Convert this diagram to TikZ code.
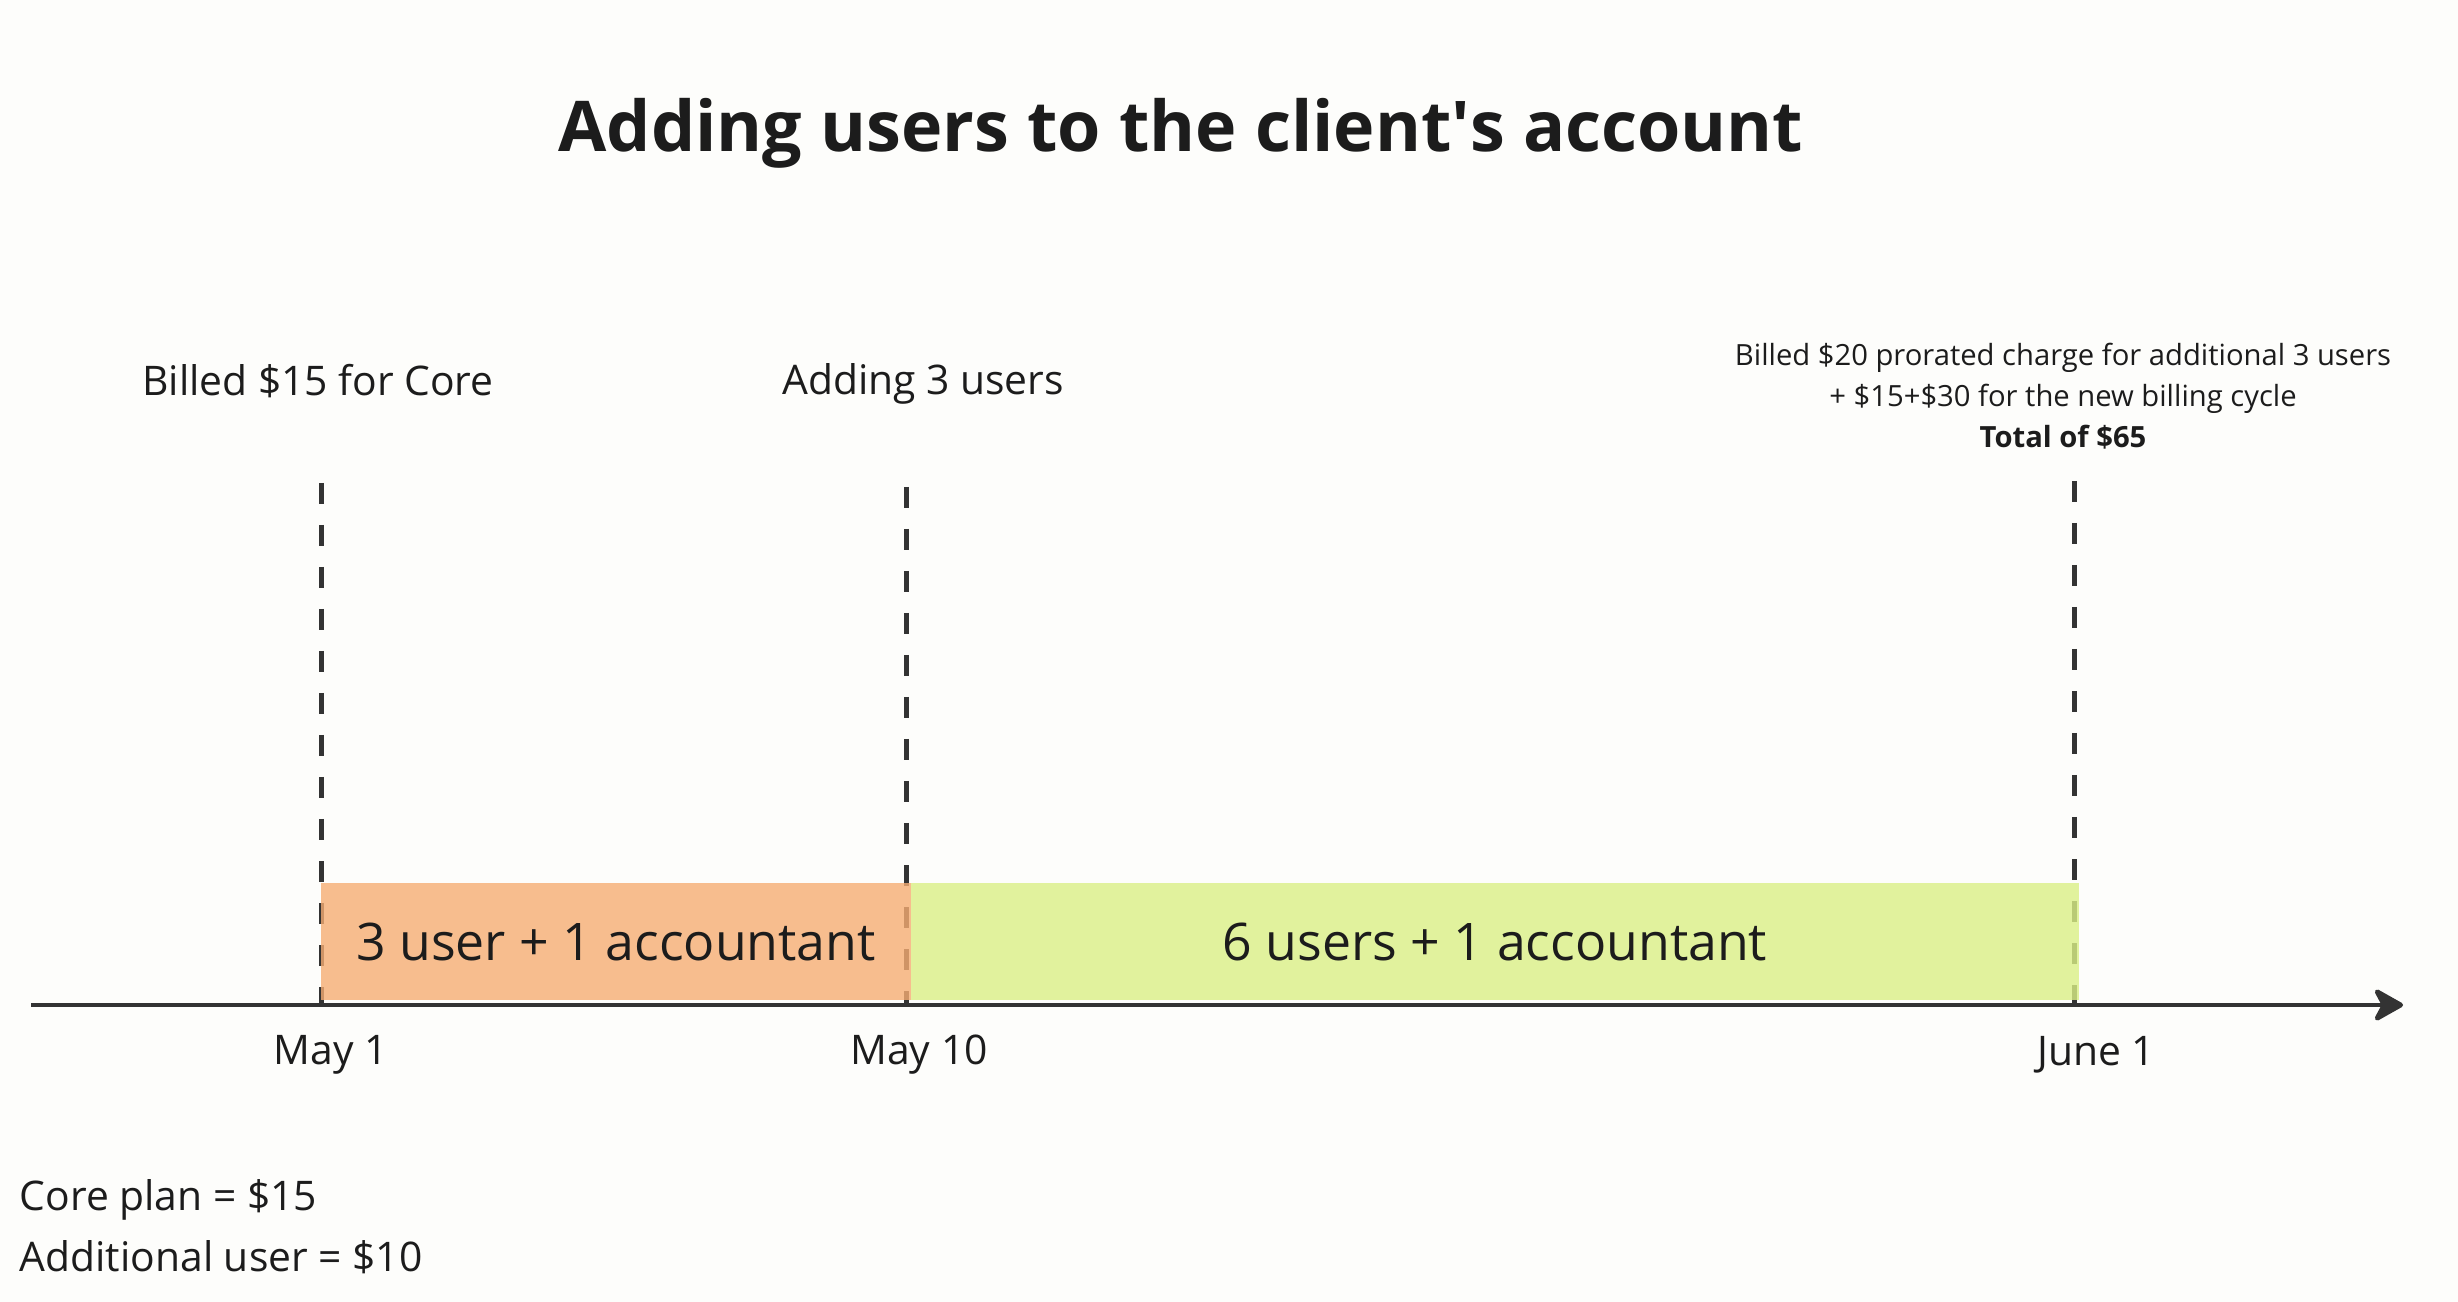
\documentclass[tikz,border=0pt]{standalone}
\usepackage{fontspec}
\setmainfont{Open Sans}
\usetikzlibrary{arrows.meta}
\definecolor{bg}{HTML}{FDFDFB}
\definecolor{ink}{HTML}{1C1C1C}
\definecolor{rule}{HTML}{333333}
\definecolor{peach}{RGB}{246,173,115}
\definecolor{lime}{RGB}{219,240,134}
\begin{document}
\begin{tikzpicture}[x=0.25pt,y=-0.25pt]
\tikzstyle{every node}+=[inner sep=0pt, text=ink]
\tikzstyle{mark line}=[rule, line width=1.25pt, dash pattern=on 5.25pt off 5.25pt]
\tikzstyle{period}=[fill opacity=0.8, text opacity=1, minimum height=29.25pt, font=\fontsize{12.95}{15}\selectfont]
\tikzstyle{event}=[font=\fontsize{10.2}{12}\selectfont]
\fill [bg] (0,0) rectangle (2458,1302);
% title
\node (title) at (1181,133) {\fontsize{17.5}{21}\selectfont\bfseries Adding users to the client\textquotesingle s account};
% events
\node (core) [event] at (318,381) {Billed \$15 for Core};
\node (add) [event] at (923,384) {Adding 3 users};
\node (renew) [align=center, font=\fontsize{7.3}{10.3}\selectfont] at (2063,396)
  {Billed \$20 prorated charge for additional 3 users\\+ \$15+\$30 for the new billing cycle\\\textbf{Total of \$65}};
% dashed marks
\coordinate (t1) at (321,483);
\coordinate (b1) at (321,1003);
\coordinate (t2) at (906,487);
\coordinate (b2) at (906,1003);
\coordinate (t3) at (2074,481);
\coordinate (b3) at (2074,1003);
\draw [mark line] (t1) -- (b1);
\draw [mark line] (t2) -- (b2);
\draw [mark line] (t3) -- (b3);
% periods
\node (p1) [period, fill=peach, minimum width=147.5pt] at (616,941.5) {3 user + 1 accountant};
\node (p2) [period, fill=lime, minimum width=292pt] at (1495,941.5) {6 users + 1 accountant};
% axis
\coordinate (axL) at (31,1005);
\coordinate (axR) at (2403,1005);
\draw [rule, line width=1.2pt, -{Stealth[length=8.5pt, width=9.5pt, inset=2.5pt, round]}] (axL) -- (axR);
% dates
\node (d1) [event] at (331,1055) {May 1};
\node (d2) [event] at (919,1055) {May 10};
\node (d3) [event] at (2096,1055) {June 1};
% prices
\node (price1) [event, anchor=west] at (19,1200) {Core plan = \$15};
\node (price2) [event, anchor=west] at (19,1257) {Additional user = \$10};
\end{tikzpicture}
\end{document}
